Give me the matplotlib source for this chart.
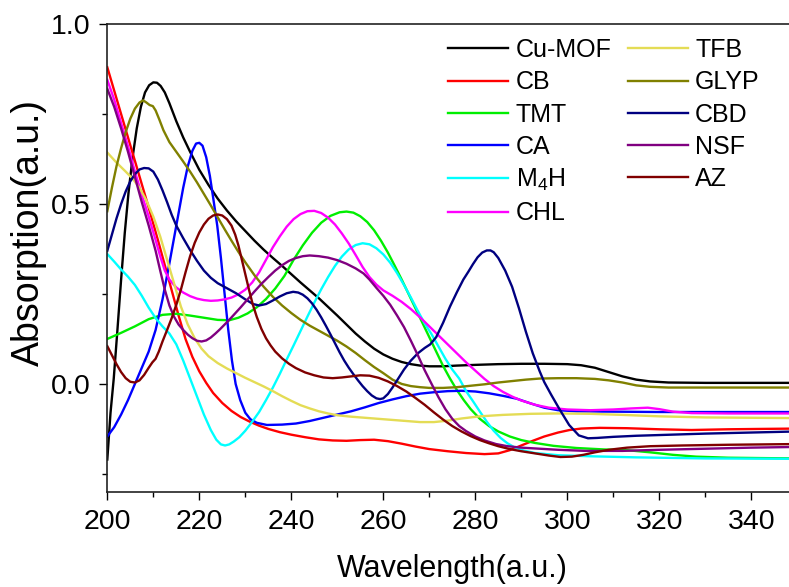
import matplotlib
matplotlib.use("Agg")
import matplotlib.pyplot as plt
from matplotlib.ticker import MultipleLocator

plt.rcParams['font.family'] = ['Liberation Sans', 'DejaVu Sans']
plt.rcParams['mathtext.fontset'] = 'custom'
plt.rcParams['mathtext.rm'] = 'Liberation Sans'

### spectra: (wavelength, absorption)
cu_mof = [(200, -0.21), (200.7, -0.08), (201.4, 0.015), (202.2, 0.15), (203, 0.29), (203.8, 0.42),
          (204.6, 0.53), (205.5, 0.63), (206.4, 0.71), (207.3, 0.77), (208.2, 0.81), (209.1, 0.83),
          (210, 0.838), (210.8, 0.837), (211.6, 0.828), (212.5, 0.81), (213.5, 0.78), (215, 0.73),
          (216.5, 0.685), (218, 0.645), (220, 0.595), (222, 0.553), (224, 0.515), (226, 0.482),
          (228, 0.452), (230, 0.425), (232, 0.398), (234, 0.373), (236, 0.35), (238, 0.328),
          (240, 0.305), (242, 0.282), (244, 0.26), (246, 0.238), (248, 0.214), (250, 0.19),
          (252, 0.165), (254, 0.14), (256, 0.118), (258, 0.098), (260, 0.082), (262, 0.07),
          (264, 0.061), (266, 0.055), (268, 0.051), (270, 0.049), (273, 0.049), (276, 0.051),
          (280, 0.053), (285, 0.055), (290, 0.056), (295, 0.056), (300, 0.055), (303, 0.052),
          (306, 0.045), (309, 0.033), (312, 0.021), (315, 0.012), (318, 0.007), (322, 0.004),
          (330, 0.003), (350, 0.003)]
cb = [(200, 0.88), (203, 0.75), (206, 0.62), (209, 0.49), (211, 0.40), (212.5, 0.33), (214, 0.26),
      (215.5, 0.19), (217, 0.125), (218.5, 0.075), (220, 0.035), (221.5, 0.003), (223, -0.025),
      (225, -0.053), (227, -0.075), (229, -0.092), (231, -0.105), (233, -0.116), (235, -0.125),
      (237.5, -0.134), (240, -0.141), (243, -0.148), (246, -0.154), (249, -0.157), (252, -0.158),
      (255, -0.156), (258, -0.155), (261, -0.159), (264, -0.166), (267, -0.174), (270, -0.181),
      (274, -0.187), (278, -0.192), (282, -0.195), (285, -0.193), (287.5, -0.184), (290, -0.171),
      (292.5, -0.158), (295, -0.146), (298, -0.135), (300.5, -0.128), (303, -0.124), (307, -0.122),
      (313, -0.123), (320, -0.126), (327, -0.128), (335, -0.126), (342, -0.125), (350, -0.124)]
tmt = [(200, 0.125), (203, 0.142), (206, 0.16), (209, 0.18), (212, 0.192), (215, 0.195), (218, 0.19),
       (221, 0.184), (224, 0.178), (226.5, 0.177), (228.5, 0.184), (230.5, 0.196), (232.5, 0.213),
       (234.5, 0.236), (236.5, 0.265), (238.5, 0.3), (240.5, 0.345), (242.5, 0.385), (244.5, 0.42),
       (246.5, 0.448), (248.5, 0.467), (250.5, 0.477), (252, 0.479), (253.5, 0.476), (255, 0.466),
       (256.5, 0.45), (258, 0.427), (259.5, 0.398), (261, 0.365), (262.5, 0.328), (264, 0.29),
       (265.5, 0.25), (267, 0.21), (268.5, 0.17), (270, 0.13), (271.5, 0.09), (273, 0.05),
       (274.5, 0.015), (276, -0.017), (277.5, -0.045), (279, -0.07), (281, -0.097), (283, -0.117),
       (285, -0.132), (287.5, -0.146), (290, -0.156), (293, -0.164), (297, -0.172), (302, -0.178),
       (308, -0.182), (313, -0.184), (318, -0.19), (323, -0.197), (328, -0.202), (335, -0.205),
       (342, -0.206), (350, -0.207)]
ca = [(200, -0.146), (201.5, -0.12), (203, -0.085), (204.5, -0.045), (206, 0.0), (207.5, 0.045),
      (209, 0.09), (210.5, 0.15), (212, 0.235), (213.5, 0.335), (215, 0.44), (216.5, 0.545),
      (217.5, 0.605), (218.5, 0.648), (219.3, 0.668), (220, 0.67), (220.7, 0.662), (221.5, 0.63),
      (222.3, 0.578), (223.1, 0.51), (223.9, 0.44), (224.7, 0.35), (225.5, 0.25), (226.3, 0.15),
      (227.1, 0.065), (227.9, 0.0), (228.9, -0.045), (230, -0.08), (231.1, -0.098), (232.5, -0.108),
      (234.7, -0.114), (238, -0.113), (241, -0.11), (244, -0.103), (247, -0.094), (250, -0.085),
      (253, -0.076), (256, -0.065), (259, -0.053), (262, -0.043), (265, -0.034), (268, -0.027),
      (271, -0.023), (274, -0.02), (277, -0.019), (280, -0.021), (283, -0.026), (286, -0.033),
      (289, -0.041), (292, -0.054), (295, -0.066), (298, -0.073), (302, -0.076), (310, -0.077),
      (320, -0.078), (350, -0.078)]
m4h = [(200, 0.361), (201.5, 0.34), (203, 0.318), (204.5, 0.298), (206, 0.275), (207.5, 0.245),
       (209, 0.212), (210.5, 0.183), (212, 0.16), (213.5, 0.14), (215, 0.11), (216.5, 0.065),
       (218, 0.015), (219.5, -0.035), (221, -0.085), (222.5, -0.128), (223.7, -0.155),
       (224.7, -0.168), (225.6, -0.171), (226.5, -0.168), (227.5, -0.16), (228.7, -0.148),
       (230, -0.13), (231.5, -0.105), (233, -0.078), (234.5, -0.045), (236, -0.01), (237.5, 0.028),
       (239, 0.068), (240.5, 0.107), (242, 0.147), (243.5, 0.187), (245, 0.226), (246.5, 0.263),
       (248, 0.297), (249.5, 0.328), (251, 0.354), (252.5, 0.374), (254, 0.386), (255.5, 0.391),
       (257, 0.388), (258.5, 0.377), (260, 0.36), (261.5, 0.337), (263, 0.308), (264.5, 0.275),
       (266, 0.24), (267.5, 0.203), (269, 0.168), (270.5, 0.138), (272, 0.104), (273.5, 0.07),
       (275, 0.04), (276.5, 0.015), (278, -0.02), (279.5, -0.048), (281, -0.077), (282.5, -0.105),
       (284, -0.13), (285.5, -0.15), (287, -0.165), (288.5, -0.176), (290.5, -0.185), (293, -0.192),
       (298, -0.198), (305, -0.201), (315, -0.204), (330, -0.207), (350, -0.208)]
chl = [(200, 0.845), (201.5, 0.79), (203, 0.725), (204.5, 0.66), (206, 0.59), (207.5, 0.525),
       (209, 0.465), (210.5, 0.4), (211.5, 0.355), (212.5, 0.315), (213.5, 0.29), (215, 0.268),
       (216.5, 0.254), (218, 0.244), (219.5, 0.237), (221, 0.233), (222.5, 0.231), (224, 0.232),
       (225.5, 0.235), (227, 0.24), (228.5, 0.249), (230, 0.262), (231.5, 0.282), (233, 0.31),
       (234.5, 0.345), (236, 0.38), (237.5, 0.41), (239, 0.437), (240.5, 0.458), (242, 0.472),
       (243.5, 0.48), (245, 0.481), (246.5, 0.475), (248, 0.462), (249.5, 0.443), (251, 0.418),
       (252.5, 0.39), (254, 0.358), (255.5, 0.325), (257, 0.297), (258.5, 0.276), (260, 0.26),
       (262, 0.245), (264, 0.228), (266, 0.208), (268, 0.185), (270, 0.16), (272, 0.135),
       (274, 0.11), (276, 0.085), (278, 0.06), (280, 0.037), (282, 0.014), (284, -0.006),
       (286, -0.022), (288, -0.035), (290, -0.046), (293, -0.058), (296, -0.066), (300, -0.071),
       (305, -0.073), (310, -0.071), (314, -0.068), (317.5, -0.066), (320, -0.07), (323, -0.077),
       (327, -0.081), (335, -0.082), (350, -0.082)]
tfb = [(200, 0.643), (202, 0.615), (204, 0.59), (205.6, 0.569), (207, 0.545), (208.5, 0.51),
       (210, 0.465), (211.5, 0.41), (213, 0.345), (214.5, 0.28), (216, 0.215), (217.5, 0.165),
       (219, 0.127), (220.5, 0.098), (222, 0.077), (224, 0.058), (226, 0.043), (228, 0.03),
       (230, 0.017), (232, 0.005), (234, -0.007), (236, -0.02), (238, -0.034), (240, -0.047),
       (242, -0.059), (244, -0.068), (246, -0.076), (248, -0.082), (250, -0.087), (253, -0.091),
       (256, -0.094), (259, -0.097), (262, -0.1), (265, -0.103), (268, -0.106), (271, -0.106),
       (274, -0.102), (277, -0.096), (281, -0.09), (286, -0.086), (292, -0.083), (298, -0.082),
       (305, -0.083), (312, -0.086), (320, -0.09), (330, -0.093), (350, -0.095)]
glyp = [(200, 0.48), (201, 0.545), (202, 0.605), (203, 0.655), (204, 0.7), (205, 0.737),
        (206, 0.765), (207, 0.782), (207.8, 0.788), (208.5, 0.782), (209.2, 0.775), (209.9, 0.772),
        (210.5, 0.76), (211.3, 0.735), (212.2, 0.705), (213.5, 0.672), (215, 0.645), (216.5, 0.618),
        (218, 0.59), (219.5, 0.56), (221, 0.528), (222.5, 0.496), (224, 0.463), (225.5, 0.43),
        (227, 0.398), (228.5, 0.367), (230, 0.338), (232, 0.302), (234, 0.27), (236, 0.242),
        (238, 0.218), (240, 0.197), (242, 0.178), (244, 0.162), (246, 0.148), (248, 0.134),
        (250, 0.12), (252, 0.104), (254, 0.086), (256, 0.066), (258, 0.047), (260, 0.03),
        (262, 0.012), (264, 0.0), (266, -0.006), (268, -0.009), (270, -0.011), (273, -0.011),
        (276, -0.009), (279, -0.005), (282, -0.001), (285, 0.004), (288, 0.008), (291, 0.012),
        (294, 0.015), (298, 0.016), (302, 0.016), (306, 0.014), (309, 0.01), (312, 0.004),
        (315, -0.004), (318, -0.008), (322, -0.01), (330, -0.01), (350, -0.01)]
cbd = [(200, 0.37), (201, 0.415), (202, 0.46), (203, 0.5), (204, 0.535), (205, 0.563), (206, 0.583),
       (207, 0.596), (208, 0.6), (209, 0.599), (210, 0.59), (211, 0.568), (212, 0.538), (213, 0.505),
       (214, 0.47), (215, 0.44), (216.5, 0.405), (218, 0.372), (219.5, 0.342), (221, 0.315),
       (222.5, 0.295), (224, 0.28), (226, 0.266), (228, 0.252), (230, 0.235), (231.7, 0.222),
       (233, 0.218), (234.5, 0.222), (236, 0.232), (237.5, 0.243), (239, 0.252), (240.4, 0.256),
       (241.5, 0.254), (242.5, 0.248), (243.5, 0.238), (244.5, 0.224), (245.5, 0.206),
       (246.5, 0.185), (247.5, 0.162), (248.5, 0.138), (249.5, 0.113), (250.5, 0.088),
       (251.5, 0.065), (252.5, 0.045), (253.5, 0.027), (254.5, 0.01), (255.5, -0.006),
       (256.5, -0.02), (257.5, -0.032), (258.5, -0.04), (259.3, -0.042), (260, -0.04),
       (261, -0.028), (262, -0.01), (263, 0.01), (264.5, 0.04), (266, 0.065), (267.5, 0.085),
       (269, 0.1), (270.2, 0.11), (271.5, 0.13), (273, 0.17), (274.5, 0.215), (276, 0.255),
       (277.4, 0.29), (278.5, 0.312), (279.5, 0.333), (280.5, 0.352), (281.5, 0.365),
       (282.5, 0.371), (283.3, 0.371), (284, 0.366), (285, 0.35), (286.5, 0.315), (288, 0.27),
       (289.5, 0.21), (291, 0.145), (292.5, 0.085), (294, 0.035), (295, 0.005), (296.5, -0.03),
       (298.3, -0.07), (300.4, -0.114), (302.5, -0.143), (304.5, -0.151), (306.5, -0.15),
       (310, -0.147), (315, -0.144), (320, -0.142), (330, -0.138), (340, -0.135), (350, -0.132)]
nsf = [(200, 0.82), (201.5, 0.77), (203, 0.71), (204.5, 0.645), (206, 0.575), (207.5, 0.505),
       (209, 0.44), (210.5, 0.37), (211.5, 0.315), (212.5, 0.262), (213.5, 0.218), (214.5, 0.187),
       (215.5, 0.165), (216.5, 0.15), (217.5, 0.137), (218.5, 0.127), (219.5, 0.12), (220.5, 0.118),
       (221.5, 0.121), (222.5, 0.129), (223.5, 0.14), (224.5, 0.152), (225.5, 0.165),
       (226.5, 0.178), (227.5, 0.192), (229, 0.213), (230.5, 0.235), (232, 0.257), (233.5, 0.278),
       (235, 0.297), (236.5, 0.315), (238, 0.33), (239.5, 0.342), (241, 0.35), (242.5, 0.355),
       (244, 0.357), (246, 0.355), (248, 0.351), (250, 0.344), (252, 0.334), (254, 0.321),
       (255.7, 0.307), (257, 0.29), (258.5, 0.267), (260, 0.245), (261.5, 0.22), (263, 0.19),
       (264.5, 0.158), (266, 0.12), (267.5, 0.08), (269, 0.038), (270.5, 0.0), (272, -0.037),
       (273.5, -0.07), (275, -0.097), (276.5, -0.117), (278, -0.131), (280, -0.146),
       (282, -0.157), (284.5, -0.167), (287, -0.173), (290, -0.177), (294, -0.18), (298, -0.183),
       (304, -0.186), (312, -0.186), (320, -0.183), (330, -0.18), (340, -0.177), (350, -0.175)]
az = [(200, 0.105), (201, 0.08), (202, 0.055), (203, 0.033), (204, 0.016), (205, 0.006),
      (206, 0.004), (207, 0.01), (208, 0.025), (209, 0.045), (209.8, 0.06), (210.5, 0.07),
      (211.2, 0.09), (212, 0.118), (213, 0.15), (214, 0.183), (215, 0.22), (216, 0.262),
      (217, 0.31), (218, 0.355), (219, 0.392), (220, 0.421), (221, 0.443), (222, 0.459),
      (223, 0.468), (224, 0.471), (225, 0.468), (226, 0.458), (227, 0.44), (227.8, 0.415),
      (228.5, 0.385), (229.2, 0.348), (230, 0.305), (230.8, 0.262), (231.6, 0.222),
      (232.5, 0.186), (233.5, 0.153), (234.5, 0.127), (235.5, 0.107), (236.5, 0.09), (238, 0.071),
      (239.5, 0.056), (241, 0.044), (243, 0.032), (245, 0.024), (247, 0.018), (249, 0.016),
      (251, 0.018), (253, 0.021), (255, 0.024), (257, 0.023), (259, 0.017), (261, 0.007),
      (263, -0.006), (265, -0.021), (267, -0.039), (269, -0.058), (271, -0.079), (273, -0.099),
      (275, -0.117), (277, -0.132), (279, -0.145), (281, -0.156), (283, -0.165), (285, -0.173),
      (287.5, -0.181), (290, -0.187), (293, -0.193), (296, -0.199), (298.5, -0.203),
      (301, -0.202), (303.5, -0.197), (306, -0.19), (309, -0.183), (313, -0.177), (318, -0.173),
      (325, -0.171), (335, -0.169), (350, -0.167)]

labels = ['Cu-MOF', 'CB', 'TMT', 'CA', 'M$_4$H', 'CHL', 'TFB', 'GLYP', 'CBD', 'NSF', 'AZ']
series = [cu_mof, cb, tmt, ca, m4h, chl, tfb, glyp, cbd, nsf, az]
colors = ['#000000', '#ff0000', '#00ee00', '#0000ff', '#00ffff', '#ff00ff',
          '#e4dc55', '#808000', '#000080', '#800080', '#800000']

fig = plt.figure(figsize=(7.89, 5.87), dpi=100)
ax = fig.add_axes([0.136, 0.162, 0.8745, 0.797])

for data, lab, c in zip(series, labels, colors):
    x = [p[0] for p in data]
    y = [p[1] for p in data]
    ax.plot(x, y, color=c, lw=1.7, label=lab, solid_joinstyle='round')

ax.set_xlim(200, 350)
ax.set_ylim(-0.3, 1.0)
ax.xaxis.set_major_locator(MultipleLocator(20))
ax.xaxis.set_minor_locator(MultipleLocator(10))
ax.yaxis.set_major_locator(MultipleLocator(0.5))
ax.yaxis.set_minor_locator(MultipleLocator(0.25))
ax.yaxis.set_major_formatter(plt.FormatStrFormatter('%.1f'))
ax.tick_params(which='major', direction='out', length=6, width=1, labelsize=20.5, pad=6)
ax.tick_params(which='minor', direction='out', length=3.5, width=1)
ax.tick_params(top=False, right=False)
for s in ax.spines.values():
    s.set_linewidth(1.2)
    s.set_color('#222222')

ax.set_xlabel('Wavelength(a.u.)', fontsize=22, labelpad=14)
ax.set_ylabel('Absorption(a.u.)', fontsize=27)
ax.yaxis.set_label_coords(-0.088, 0.554)

ax.legend(ncol=2, frameon=False, fontsize=18, loc='upper left',
          bbox_to_anchor=(448 / 789, 1 - 38 / 587), bbox_transform=fig.transFigure,
          borderpad=0, borderaxespad=0, handlelength=2.4, handletextpad=0.3,
          columnspacing=0.65, labelspacing=0.33)

fig.savefig('out.png', dpi=100)
